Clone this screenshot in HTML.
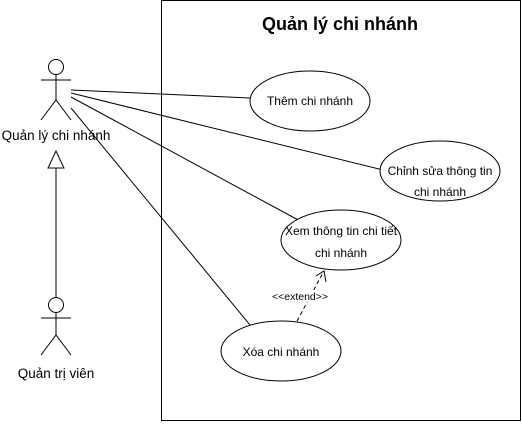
<!DOCTYPE html>
<html><head><style>body{margin:0;background:#fff}</style></head><body>
<svg width="522" height="422" xmlns="http://www.w3.org/2000/svg" font-family="Liberation Sans, Arial, sans-serif">
<rect x="161.5" y="0.5" width="359" height="420" fill="#fff" stroke="#000"/>
<text x="340" y="30" font-size="18" font-weight="bold" text-anchor="middle">Quản lý chi nhánh</text>
<g stroke="#000" fill="none">
<line x1="71" y1="90" x2="250" y2="98"/>
<line x1="71" y1="93" x2="383" y2="170"/>
<line x1="71" y1="97" x2="300" y2="221"/>
<line x1="71" y1="108" x2="255" y2="331"/>
<ellipse cx="310" cy="101" rx="60" ry="30" fill="#fff"/>
<ellipse cx="440" cy="171" rx="60" ry="30" fill="#fff"/>
<ellipse cx="341" cy="240" rx="60" ry="30" fill="#fff"/>
<ellipse cx="281" cy="351" rx="60" ry="30" fill="#fff"/>
<line x1="297" y1="321" x2="324" y2="271" stroke-dasharray="4,3"/>
<polyline points="316,276 324,271 326,282"/>
<circle cx="56" cy="67" r="7.5"/>
<line x1="56" y1="75" x2="56" y2="100"/>
<line x1="41" y1="80" x2="71" y2="80"/>
<polyline points="41,120 56,100 71,120"/>
<line x1="56" y1="168" x2="56" y2="297"/>
<polygon points="56,151 48,168 64,168" fill="#fff"/>
<circle cx="56" cy="305" r="7.5"/>
<line x1="56" y1="313" x2="56" y2="335"/>
<line x1="41" y1="318" x2="71" y2="318"/>
<polyline points="41,355 56,335 71,355"/>
</g>
<g font-size="13.5" text-anchor="middle" fill="#000">
<text x="56" y="140">Quản lý chi nhánh</text>
<text x="56" y="378">Quản trị viên</text>
</g>
<g font-size="12" text-anchor="middle" fill="#000">
<text x="310" y="105">Thêm chi nhánh</text>
<text x="440" y="175">Chỉnh sửa thông tin</text>
<text x="440" y="196">chi nhánh</text>
<text x="341" y="235">Xem thông tin chi tiết</text>
<text x="341" y="257">chi nhánh</text>
<text x="281" y="356">Xóa chi nhánh</text>
<rect x="266" y="290" width="68" height="12" fill="#fff"/>
<text x="300" y="300" font-size="10.5">&lt;&lt;extend&gt;&gt;</text>
</g>
</svg>
</body></html>
